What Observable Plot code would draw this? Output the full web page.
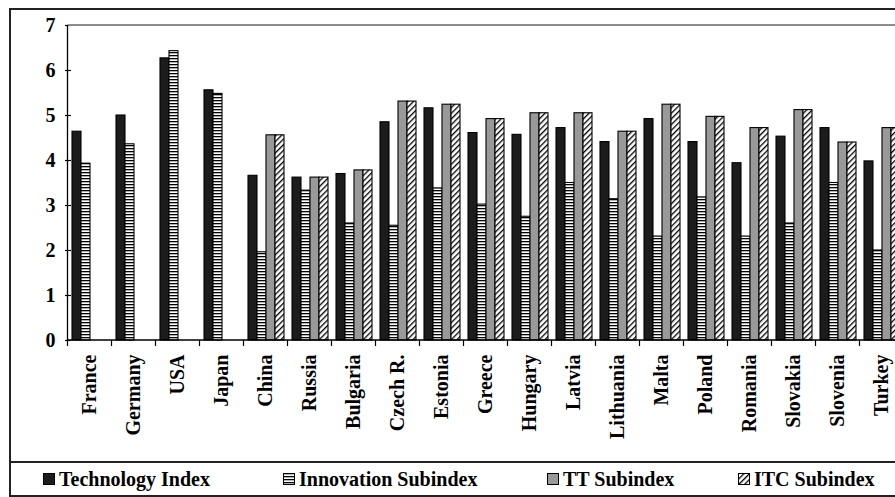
<!DOCTYPE html>
<html>
<head>
<meta charset="utf-8">
<script src="https://cdn.jsdelivr.net/npm/d3@7"></script>
<script src="https://cdn.jsdelivr.net/npm/@observablehq/plot@0.6"></script>
<style>
  html, body { margin: 0; padding: 0; background: #fff; overflow: hidden; }
  #page { position: relative; width: 895px; height: 497px; overflow: hidden; background: #fff; }
  #box { position: absolute; left: 9px; top: 8px; width: 930px; height: 485px; border-top: 2px solid #222; border-left: 2px solid #222; border-bottom: 2px solid #222; background: #fff; }
  #legend { position: relative; border-top: 2px solid #222; height: 32px; }
  .item { position: absolute; top: 0; height: 32px; display: flex; align-items: center; white-space: nowrap;
          font-family: 'Liberation Serif', 'Times New Roman', serif; font-weight: bold; font-size: 20px; color: #000; }
</style>
</head>
<body>
<div id="page">
<div id="box">
  <div id="chart"></div>
  <div id="legend"></div>
</div>
</div>
<script>
const countries = ["France", "Germany", "USA", "Japan", "China", "Russia", "Bulgaria", "Czech R.", "Estonia", "Greece",
                   "Hungary", "Latvia", "Lithuania", "Malta", "Poland", "Romania", "Slovakia", "Slovenia", "Turkey"];
const seriesNames = ["Technology Index", "Innovation Subindex", "TT Subindex", "ITC Subindex"];
const technology = [4.64, 5.00, 6.27, 5.56, 3.66, 3.62, 3.70, 4.85, 5.16, 4.61, 4.57, 4.72, 4.41, 4.92, 4.41, 3.94, 4.53, 4.72, 3.98];
const innovation = [3.93, 4.36, 6.43, 5.48, 1.96, 3.33, 2.60, 2.55, 3.38, 3.02, 2.75, 3.50, 3.14, 2.31, 3.18, 2.31, 2.60, 3.50, 2.00];
const ttSub      = [null, null, null, null, 4.56, 3.62, 3.78, 5.31, 5.24, 4.92, 5.05, 5.05, 4.64, 5.24, 4.97, 4.72, 5.12, 4.40, 4.72];
const itcSub     = [null, null, null, null, 4.56, 3.62, 3.78, 5.31, 5.24, 4.92, 5.05, 5.05, 4.64, 5.24, 4.97, 4.72, 5.12, 4.40, 4.72];
const yTicks = [0, 1, 2, 3, 4, 5, 6, 7];

const fills = ["#1c1c1c", "url(#pInnov)", "#999999", "url(#pItc)"];
const legendLeft = [32, 272, 536, 727];
const seriesValues = [technology, innovation, ttSub, itcSub];

const rows = [];
countries.forEach((c, i) => {
  seriesValues.forEach((arr, k) => {
    if (arr[i] != null) rows.push({country: c, series: seriesNames[k], value: arr[i]});
  });
});

const chart = Plot.plot({
  width: 905,
  height: 451,
  marginLeft: 56,
  marginTop: 15,
  marginRight: 12,
  marginBottom: 121,
  style: {fontFamily: "'Liberation Serif', 'Times New Roman', serif", fontWeight: "bold", color: "#000", background: "transparent", maxWidth: "none"},
  fx: {domain: countries, paddingInner: 0.16, paddingOuter: 0.08, label: null},
  x: {domain: seriesNames, padding: 0, axis: null},
  y: {domain: [0, 7], axis: null},
  color: {type: "ordinal", domain: seriesNames, range: fills},
  marks: [
    Plot.barY(rows, {fx: "country", x: "series", y: "value", fill: "series", stroke: "#000", strokeWidth: 1.1}),
    Plot.axisY({ticks: yTicks, tickFormat: d3.format("d"), tickSize: 6, tickPadding: 10, fontSize: 20, fontWeight: "bold", label: null, stroke: "#000", strokeWidth: 1.2}),
    Plot.axisFx({anchor: "bottom", tickSize: 0, tickPadding: 14, tickRotate: -90, fontSize: 20, fontWeight: "bold", label: null})
  ]
});

document.getElementById("chart").appendChild(chart);

// patterns for the hatched fills
const svg = d3.select(chart);
const defs = svg.insert("defs", ":first-child");
const p1 = defs.append("pattern").attr("id", "pInnov").attr("patternUnits", "userSpaceOnUse").attr("width", 4).attr("height", 3);
p1.append("rect").attr("width", 4).attr("height", 3).attr("fill", "#fff");
p1.append("rect").attr("width", 4).attr("height", 1.3).attr("fill", "#000");
const p2 = defs.append("pattern").attr("id", "pItc").attr("patternUnits", "userSpaceOnUse").attr("width", 4).attr("height", 4)
  .attr("patternTransform", "rotate(45)");
p2.append("rect").attr("width", 4).attr("height", 4).attr("fill", "#fff");
p2.append("rect").attr("width", 1.3).attr("height", 4).attr("fill", "#000");

// axis lines and category-boundary ticks from the plot's scales
const ys = chart.scale("y");
const fxs = chart.scale("fx");
const step = fxs.step, bw = fxs.bandwidth;
const half = (step - bw) / 2;
const bounds = countries.map(c => fxs.apply(c) - half);
bounds.push(fxs.apply(countries[countries.length - 1]) + bw + half);
const y0 = ys.apply(0), y7 = ys.apply(7);
const g = svg.append("g");
g.append("line").attr("x1", bounds[0]).attr("x2", 905).attr("y1", y7).attr("y2", y7).attr("stroke", "#8c8c8c").attr("stroke-width", 1.8);
g.append("line").attr("x1", bounds[0]).attr("x2", bounds[0]).attr("y1", y7).attr("y2", y0).attr("stroke", "#000").attr("stroke-width", 1.3);
g.append("line").attr("x1", bounds[0]).attr("x2", bounds[bounds.length - 1]).attr("y1", y0).attr("y2", y0).attr("stroke", "#000").attr("stroke-width", 1.3);
bounds.forEach(b => g.append("line").attr("x1", b).attr("x2", b).attr("y1", y0).attr("y2", y0 + 6).attr("stroke", "#000").attr("stroke-width", 1.2));

// legend
const legend = document.getElementById("legend");
seriesNames.forEach((name, k) => {
  const item = document.createElement("div");
  item.className = "item";
  item.style.left = legendLeft[k] + "px";
  const sw = document.createElementNS("http://www.w3.org/2000/svg", "svg");
  sw.setAttribute("width", 12); sw.setAttribute("height", 12);
  sw.style.marginRight = "4px";
  sw.innerHTML = `<rect x="0.5" y="0.5" width="11" height="11" fill="${fills[k]}" stroke="#000" stroke-width="1"/>`;
  item.appendChild(sw);
  const t = document.createElement("span");
  t.textContent = name;
  item.appendChild(t);
  legend.appendChild(item);
});
</script>
</body>
</html>
